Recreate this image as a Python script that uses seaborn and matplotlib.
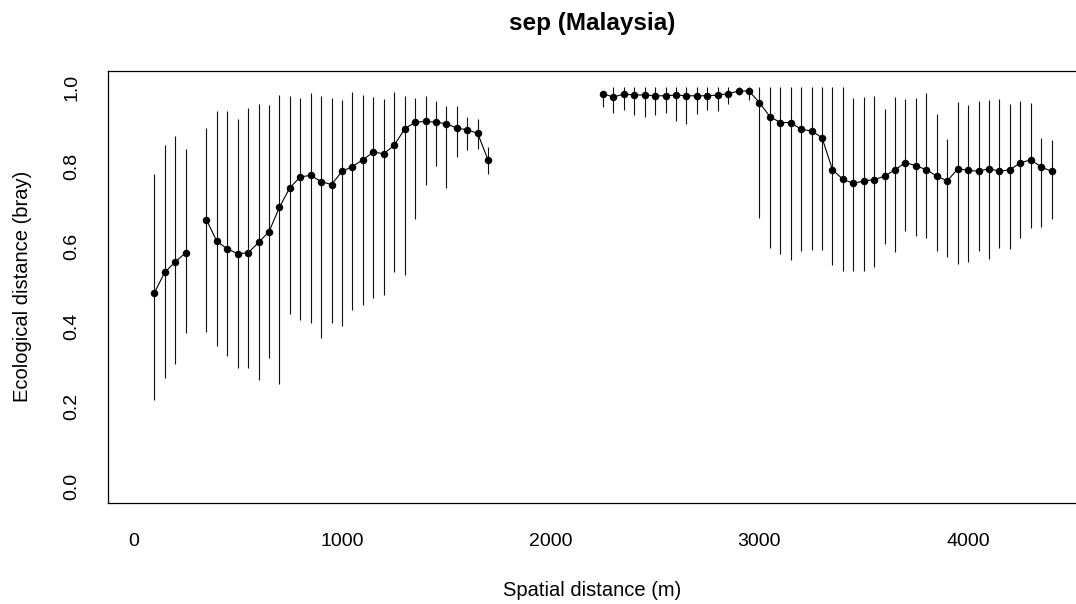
import numpy as np
import pandas as pd
import matplotlib
matplotlib.use("Agg")
import matplotlib.pyplot as plt
import seaborn as sns

# Distance classes (m) that have data
dist_m = np.r_[np.arange(100, 251, 50), np.arange(350, 1701, 50), np.arange(2250, 4401, 50)]

# Mean Bray-Curtis dissimilarity per distance class
mean_bray = [
    0.484, 0.536, 0.562, 0.585,
    0.668, 0.614, 0.595, 0.583, 0.585, 0.611, 0.638, 0.699, 0.748, 0.775,
    0.779, 0.763, 0.756, 0.789, 0.801, 0.818, 0.837, 0.833, 0.854, 0.895,
    0.912, 0.914, 0.912, 0.908, 0.897, 0.893, 0.884, 0.817,
    0.983, 0.975, 0.982, 0.980, 0.980, 0.978, 0.978, 0.980, 0.978, 0.978,
    0.978, 0.980, 0.983, 0.990, 0.990, 0.961, 0.926, 0.911, 0.911, 0.894,
    0.890, 0.873, 0.793, 0.769, 0.759, 0.765, 0.768, 0.777, 0.793, 0.811,
    0.803, 0.793, 0.777, 0.765, 0.795, 0.792, 0.789, 0.796, 0.789, 0.793,
    0.810, 0.818, 0.800, 0.789,
]

# Lower and upper limits of the range in each class
lower_bray = [
    0.217, 0.271, 0.306, 0.385,
    0.386, 0.353, 0.328, 0.296, 0.296, 0.268, 0.323, 0.257, 0.431, 0.418,
    0.410, 0.373, 0.410, 0.403, 0.441, 0.455, 0.473, 0.480, 0.536, 0.530,
    0.669, 0.755, 0.802, 0.748, 0.825, 0.842, 0.844, 0.783,
    0.950, 0.935, 0.942, 0.930, 0.925, 0.931, 0.935, 0.916, 0.908, 0.933,
    0.942, 0.941, 0.957, 0.979, 0.968, 0.673, 0.598, 0.583, 0.568, 0.589,
    0.593, 0.591, 0.554, 0.539, 0.539, 0.539, 0.550, 0.607, 0.586, 0.640,
    0.627, 0.623, 0.589, 0.575, 0.558, 0.561, 0.589, 0.570, 0.598, 0.595,
    0.623, 0.648, 0.650, 0.669,
]
upper_bray = [
    0.782, 0.856, 0.877, 0.846,
    0.898, 0.941, 0.941, 0.919, 0.948, 0.958, 0.955, 0.980, 0.977, 0.972,
    0.986, 0.978, 0.973, 0.967, 0.987, 0.981, 0.976, 0.971, 0.987, 0.978,
    0.973, 0.978, 0.966, 0.952, 0.952, 0.926, 0.921, 0.850,
    0.990, 1.000, 1.000, 1.000, 1.000, 1.000, 1.000, 1.000, 1.000, 1.000,
    1.000, 1.000, 1.000, 1.000, 1.000, 1.000, 1.000, 1.000, 1.000, 1.000,
    1.000, 1.000, 1.000, 1.000, 0.973, 0.976, 0.978, 0.945, 0.976, 0.969,
    0.973, 0.985, 0.933, 0.871, 0.963, 0.954, 0.966, 0.968, 0.971, 0.958,
    0.966, 0.961, 0.873, 0.868,
]

x_ticks = [0, 1000, 2000, 3000, 4000]
y_ticks = [0.0, 0.2, 0.4, 0.6, 0.8, 1.0]

df = pd.DataFrame({"dist": dist_m, "mean": mean_bray,
                   "lower": lower_bray, "upper": upper_bray})
# break the connecting line wherever a distance class is missing
df["seg"] = (df["dist"].diff().fillna(50) > 50).cumsum()

sns.set_theme(style="white")
plt.rcParams["font.family"] = ["Liberation Sans", "DejaVu Sans"]
plt.rcParams["text.color"] = "black"
plt.rcParams["axes.labelcolor"] = "black"

W, H = 1076, 604
fig = plt.figure(figsize=(W / 100, H / 100), dpi=100)
left, right, top, bottom = 108.3, 1076.0, 71.0, 502.7
ax = fig.add_axes([left / W, 1 - bottom / H, (right - left) / W, (bottom - top) / H])

ax.vlines(df["dist"], df["lower"], df["upper"], colors="#111111", lw=0.8, zorder=1)
sns.lineplot(data=df, x="dist", y="mean", units="seg", estimator=None,
             color="black", lw=0.8, marker="o", markersize=5.4,
             markeredgewidth=0, ax=ax, zorder=2, legend=False)

ax.set_xlim(-120, 4517)
ax.set_ylim(-0.04, 1.04)
ax.set_xticks(x_ticks)
ax.set_xticklabels([str(t) for t in x_ticks])
ax.set_yticks(y_ticks)
ax.set_yticklabels([f"{t:.1f}" for t in y_ticks], rotation=90, va="center")

for name, s in ax.spines.items():
    s.set_visible(name != "right")
    s.set_color("black")
    s.set_linewidth(0.9)

ax.tick_params(axis="both", direction="out", length=9.4, width=0.8,
               color="#555555", labelsize=14, labelcolor="black")
ax.tick_params(axis="x", pad=12.5)
ax.tick_params(axis="y", pad=10.5)

ax.set_xlabel("Spatial distance (m)", fontsize=14.5, va="center")
ax.xaxis.set_label_coords(0.5, (bottom - 590) / (bottom - top))
ax.set_ylabel("Ecological distance (bray)", fontsize=14.5, va="center")
ax.yaxis.set_label_coords((22.5 - left) / (right - left), 0.5)

ax.set_title("sep (Malaysia)", fontsize=17.5, fontweight="bold", color="black",
             y=(bottom - 23.5) / (bottom - top), va="center", pad=0)

fig.savefig("out.png", dpi=100, facecolor="white")
